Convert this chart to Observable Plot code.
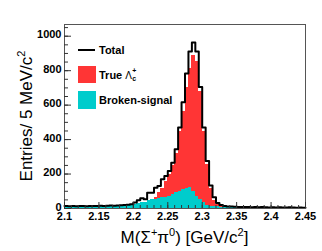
<!DOCTYPE html>
<html><head><meta charset="utf-8">
<script src="https://cdn.jsdelivr.net/npm/d3@7"></script>
<script src="https://cdn.jsdelivr.net/npm/@observablehq/plot@0.6"></script>
<style>body{margin:0;background:#fff}</style>
</head><body><div id="chart"></div>
<script>
// ---- data (5 MeV bins from 2.100 to 2.450 GeV/c^2) ----
const xMin = 2.1;
const binWidth = 0.005;
const total = [
  14,13,14,13,14,15,13,14,15,14,
  16,15,16,17,16,18,19,21,22,25,
  35,48,60,53,91,92,121,131,170,189,
  218,266,344,470,617,784,911,964,911,705,
  470,276,133,65,32,20,14,12,11,10,
  9,8,9,8,7,8,7,8,7,6,
  7,6,7,6,6,7,6,5,6,5
];
const trueLc = [
  0,0,0,0,0,0,0,0,0,0,
  0,0,0,0,0,0,0,0,0,0,
  0,0,0,0,0,2,8,30,55,90,
  125,165,230,345,455,590,690,790,780,630,
  415,235,100,35,12,5,3,2,1,0,
  0,0,0,0,0,0,0,0,0,0,
  0,0,0,0,0,0,0,0,0,0
];
const broken = [
  11,11,12,11,12,12,11,12,12,12,
  13,12,13,14,13,15,15,17,18,20,
  24,30,34,36,45,50,55,60,63,66,
  72,82,92,100,108,115,120,96,72,50,
  32,20,14,11,9,8,7,7,6,6,
  6,6,6,5,5,5,5,5,5,5,
  5,5,4,5,4,4,4,4,4,4
];
const seriesNames = ["Broken-signal", "True"];
const seriesColors = ["#00cccc", "#ff3535"];
const xTicks = [2.1, 2.15, 2.2, 2.25, 2.3, 2.35, 2.4, 2.45];
const xTickLabels = ["2.1", "2.15", "2.2", "2.25", "2.3", "2.35", "2.4", "2.45"];
const yTicks = [0, 200, 400, 600, 800, 1000];
const yTickLabels = ["0", "200", "400", "600", "800", "1000"];
const yMinor = d3.range(0, 1051, 50);
const xMinor = d3.range(0, 36).map(i => +(2.1 + i * 0.01).toFixed(2));

// ---- build tables ----
const bins = total.map((_, i) => ({x1: xMin + i * binWidth, x2: xMin + (i + 1) * binWidth}));
const stackData = [
  ...broken.map((v, i) => ({...bins[i], y: v, series: seriesNames[0]})),
  ...trueLc.map((v, i) => ({...bins[i], y: v, series: seriesNames[1]}))
];
const outline = total.map((v, i) => ({x: bins[i].x1, y: v}));
outline.push({x: bins[bins.length - 1].x2, y: total[total.length - 1]});

const W = 322, H = 251, mL = 64, mR = 17, mT = 24, mB = 43;
const fw = W - mL - mR, fh = H - mT - mB;

const plot = Plot.plot({
  width: W, height: H,
  marginLeft: mL, marginRight: mR, marginTop: mT, marginBottom: mB,
  style: {fontFamily: "'Liberation Sans', Arial, sans-serif", background: "#fff", color: "#000"},
  x: {domain: [2.1, 2.45]},
  y: {domain: [0, 1068]},
  color: {domain: seriesNames, range: seriesColors},
  marks: [
    Plot.rectY(stackData, {x1: "x1", x2: "x2", y: "y", fill: "series", shapeRendering: "crispEdges"}),
    Plot.line(outline, {x: "x", y: "y", curve: "step-after", stroke: "#000", strokeWidth: 2}),
    Plot.frame({stroke: "#555"}),
    Plot.tickY(yMinor, {y: d => d, insetRight: fw - 4, stroke: "#333"}),
    Plot.tickY(yTicks, {y: d => d, insetRight: fw - 7, stroke: "#333"}),
    Plot.tickX(xMinor, {x: d => d, insetTop: fh - 3, stroke: "#333"}),
    Plot.tickX(xTicks, {x: d => d, insetTop: fh - 6, stroke: "#333"}),
    Plot.axisY({ticks: yTicks, tickSize: 0, tickPadding: 3, fontSize: 11, fontWeight: "bold", label: null,
      dy: -1.5, tickFormat: d => yTickLabels[yTicks.indexOf(d)]}),
    Plot.axisX({ticks: xTicks, tickSize: 0, tickPadding: 5, fontSize: 11, fontWeight: "bold", label: null,
      dy: -1, tickFormat: d => xTickLabels[xTicks.indexOf(d)]})
  ]
});
document.getElementById("chart").appendChild(plot);

const svg = d3.select(plot);
const ff = "'Liberation Sans', Arial, sans-serif";

// y title
const yt = svg.append("text")
  .attr("transform", `translate(26,${mT + fh / 2}) rotate(-90)`)
  .attr("text-anchor", "middle").attr("dy", "0.35em")
  .attr("font-family", ff).attr("font-size", 17).attr("fill", "#000");
yt.append("tspan").text("Entries/ 5 MeV/c");
yt.append("tspan").attr("font-size", 11).attr("dy", -7).text("2");

// x title
const xt = svg.append("text")
  .attr("x", mL + fw / 2).attr("y", 243)
  .attr("text-anchor", "middle")
  .attr("font-family", ff).attr("font-size", 17).attr("fill", "#000");
xt.append("tspan").text("M(Σ");
xt.append("tspan").attr("font-size", 11).attr("dy", -7).text("+");
xt.append("tspan").attr("dy", 7).text("π");
xt.append("tspan").attr("font-size", 11).attr("dy", -7).text("0");
xt.append("tspan").attr("dy", 7).text(") [GeV/c");
xt.append("tspan").attr("font-size", 11).attr("dy", -7).text("2");
xt.append("tspan").attr("dy", 7).text("]");

// legend
const lg = svg.append("g").attr("font-family", ff).attr("fill", "#000").attr("text-anchor", "start");
lg.append("line").attr("x1", 78).attr("x2", 95).attr("y1", 50).attr("y2", 50)
  .attr("stroke", "#000").attr("stroke-width", 2);
lg.append("text").attr("x", 99).attr("y", 50).attr("dy", "0.35em")
  .attr("font-size", 11).attr("font-weight", "bold").text("Total");
lg.append("rect").attr("x", 78).attr("y", 66).attr("width", 18).attr("height", 17).attr("fill", seriesColors[1]);
const tt = lg.append("text").attr("x", 99).attr("y", 75).attr("dy", "0.35em")
  .attr("font-size", 11).attr("font-weight", "bold").text("True");
const tw = tt.node().getComputedTextLength();
lg.append("text").attr("x", 99 + tw + 3).attr("y", 78.5)
  .attr("font-size", 10).text("Λ");
lg.append("text").attr("x", 99 + tw + 10).attr("y", 73)
  .attr("font-size", 7).attr("font-weight", "bold").text("+");
lg.append("text").attr("x", 99 + tw + 10).attr("y", 81)
  .attr("font-size", 7).attr("font-weight", "bold").text("c");
lg.append("rect").attr("x", 78).attr("y", 91).attr("width", 18).attr("height", 18).attr("fill", seriesColors[0]);
lg.append("text").attr("x", 99).attr("y", 100).attr("dy", "0.35em")
  .attr("font-size", 11).attr("font-weight", "bold").text("Broken-signal");
</script>
</body></html>
